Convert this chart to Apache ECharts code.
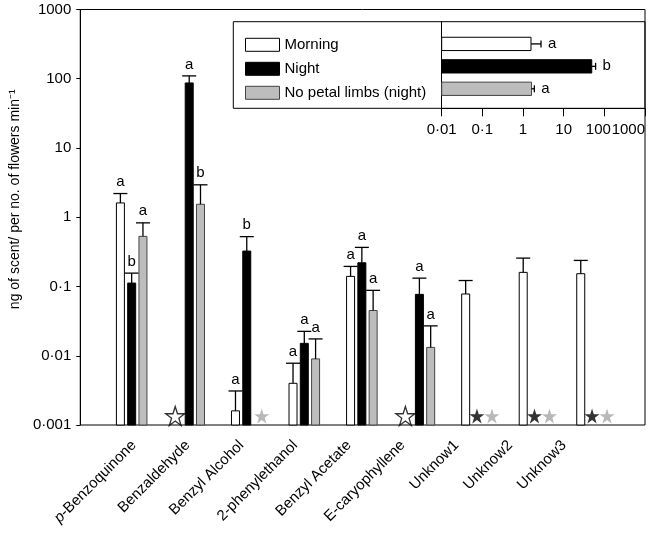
<!DOCTYPE html>
<html><head><meta charset="utf-8">
<script src="https://cdn.jsdelivr.net/npm/echarts@6/dist/echarts.min.js"></script>
<style>html,body{margin:0;padding:0;background:#fff}#c{width:649px;height:534px}</style>
</head><body><div id="c"></div>
<script>
// ---------- data ----------
const categories = ['p-Benzoquinone','Benzaldehyde','Benzyl Alcohol','2-phenylethanol','Benzyl Acetate','E-caryophyllene','Unknow1','Unknow2','Unknow3'];
const morning      = [1.61, null, 0.0016, 0.0040, 0.140, null, 0.078, 0.160, 0.153];
const morningErr   = [2.20, null, 0.0031, 0.0078, 0.195, null, 0.122, 0.257, 0.238];
const morningLetters = ['a','','a','a','a','','','',''];
const night        = [0.112, 87, 0.325, 0.0151, 0.22, 0.077, null, null, null];
const nightErr     = [0.156, 110, 0.525, 0.0225, 0.367, 0.132, null, null, null];
const nightLetters = ['b','a','b','a','a','a','','',''];
const noLimbs      = [0.53, 1.54, null, 0.0090, 0.045, 0.0132, null, null, null];
const noLimbsErr   = [0.83, 2.94, null, 0.0175, 0.088, 0.027, null, null, null];
const noLimbsLetters = ['a','b','','a','a','a','','',''];
// not detected (stars)
const morningND = [0,1,0,0,0,1,0,0,0];
const nightND   = [0,0,0,0,0,0,1,1,1];
const noLimbsND = [0,0,1,0,0,0,1,1,1];
const ndLevel = 0.00135;
// inset (total emission)
const insetGroups  = ['Morning','Night','No petal limbs (night)'];
const insetValues  = [1.57, 49, 1.62];
const insetErr     = [2.77, 61, 1.90];
const insetLetters = ['a','b','a'];

// ---------- styles ----------
const FONT = '"Liberation Sans", Arial, Helvetica, sans-serif';
const fills = ['#ffffff', '#000000', '#bdbdbd'];
const strokes = ['#000000', '#000000', '#444444'];
const fmt = v => String(+(+v).toPrecision(6)).replace('.', '\u00B7');
const STAR = 'path://M50 2 L61.8 38.2 L99.9 38.2 L69.1 60.6 L80.9 96.8 L50 74.4 L19.1 96.8 L30.9 60.6 L0.1 38.2 L38.2 38.2 Z';

function barSeries(name, vals, errs, letters, k) {
  const data = [];
  vals.forEach((v, i) => { if (v != null) data.push([i, v, errs[i]]); });
  return {
    type: 'custom', name, xAxisIndex: 1, yAxisIndex: 1, z: 5,
    itemStyle: { color: fills[k], borderColor: strokes[k] },
    data,
    renderItem(params, api) {
      const i = api.value(0), v = api.value(1), e = api.value(2);
      const band = api.coord([1, v])[0] - api.coord([0, v])[0];
      const cx = api.coord([i, v])[0] + (k - 1) * band * 0.196;
      const yTop = api.coord([i, v])[1];
      const yBase = api.coord([i, 0.001])[1];
      const yErr = api.coord([i, e])[1];
      const bw = 8, cw = 14;
      return { type: 'group', children: [
        { type: 'rect', shape: { x: cx - bw / 2, y: yTop, width: bw, height: yBase - yTop },
          style: { fill: fills[k], stroke: strokes[k], lineWidth: 1 } },
        { type: 'line', shape: { x1: cx, y1: yTop, x2: cx, y2: yErr }, style: { stroke: '#000', lineWidth: 1.3 } },
        { type: 'line', shape: { x1: cx - cw / 2, y1: yErr, x2: cx + cw / 2, y2: yErr }, style: { stroke: '#000', lineWidth: 1.3 } },
        { type: 'text', x: cx, y: yErr - 4,
          style: { text: letters[i], fill: '#000', font: '15px ' + FONT, align: 'center', verticalAlign: 'bottom' } }
      ]};
    }
  };
}

function starSeries(flags, k, size, offset) {
  const data = [];
  flags.forEach((f, i) => { if (f) data.push([i, ndLevel]); });
  const style = k === 0 ? { color: '#fff', borderColor: '#000', borderWidth: 1.3 }
              : k === 1 ? { color: '#000' } : { color: '#a6a6a6' };
  return { type: 'scatter', xAxisIndex: 1, yAxisIndex: 1, symbol: STAR, symbolSize: size,
           symbolOffset: [offset, 0], itemStyle: style, data, z: 6, silent: true };
}

const insetSeries = {
  type: 'custom', xAxisIndex: 3, yAxisIndex: 3, z: 5,
  data: insetValues.map((v, i) => [v, i, insetErr[i]]),
  renderItem(params, api) {
    const v = api.value(0), i = api.value(1), e = api.value(2);
    const p = api.coord([v, i]);
    const x0 = api.coord([0.01, i])[0];
    const xe = api.coord([e, i])[0];
    const h = 13.3;
    return { type: 'group', children: [
      { type: 'rect', shape: { x: x0, y: p[1] - h / 2, width: p[0] - x0, height: h },
        style: { fill: fills[i], stroke: strokes[i], lineWidth: 1 } },
      { type: 'line', shape: { x1: p[0], y1: p[1], x2: xe, y2: p[1] }, style: { stroke: '#000', lineWidth: 1.3 } },
      { type: 'line', shape: { x1: xe, y1: p[1] - 3.5, x2: xe, y2: p[1] + 3.5 }, style: { stroke: '#000', lineWidth: 1.3 } },
      { type: 'text', x: xe + 7, y: p[1],
        style: { text: insetLetters[i], fill: '#000', font: '15px ' + FONT, align: 'left', verticalAlign: 'middle' } }
    ]};
  }
};

const hidden = { axisLine: { show: false }, axisTick: { show: false }, axisLabel: { show: false }, splitLine: { show: false } };

const chart = echarts.init(document.getElementById('c'), null, { renderer: 'canvas' });
chart.setOption({
  animation: false,
  textStyle: { fontFamily: FONT, color: '#000' },
  graphic: [{ type: 'rect', shape: { x: 233.3, y: 21.7, width: 411.7, height: 86.6 },
              style: { fill: 'none', stroke: '#000', lineWidth: 1 }, z: 10 }],
  legend: {
    orient: 'vertical', left: 245, top: 37.3, padding: 0, itemWidth: 34, itemHeight: 13, itemGap: 9,
    selectedMode: false, icon: 'rect',
    textStyle: { fontSize: 15, fontFamily: FONT, color: '#000', lineHeight: 13 },
    data: insetGroups.map((n, k) => ({ name: n, itemStyle: { color: fills[k], borderColor: strokes[k], borderWidth: 1 } }))
  },
  grid: [
    { left: 74.7, right: 4, top: 9.5, bottom: 109, show: true, borderColor: '#000', borderWidth: 1 },
    { left: 102.9, right: 28.2, top: 9.5, bottom: 109 },
    { left: 107.1, right: 58.1, top: 9.5, bottom: 109 },
    { left: 441.7, right: 4, top: 21.7, bottom: 425.7 }
  ],
  xAxis: [
    Object.assign({ type: 'value', gridIndex: 0, min: 0, max: 1 }, hidden),
    Object.assign({ type: 'category', gridIndex: 1, data: categories }, hidden),
    { type: 'category', gridIndex: 2, data: categories,
      axisLine: { show: false }, axisTick: { show: false }, splitLine: { show: false },
      axisLabel: { rotate: 45, margin: 18, fontSize: 15, fontFamily: FONT, color: '#000', interval: 0,
        formatter: v => v === 'p-Benzoquinone' ? '{i|p}-Benzoquinone' : v,
        rich: { i: { fontStyle: 'italic', fontSize: 15, fontFamily: FONT, color: '#000' } } } },
    { type: 'log', gridIndex: 3, position: 'bottom', min: 0.01, max: 1000, logBase: 10, interval: 1,
      axisLine: { show: true, onZero: false, lineStyle: { color: '#000', width: 1 } },
      axisTick: { show: true, inside: false, length: 8, lineStyle: { color: '#000' } },
      axisLabel: { margin: 14, fontSize: 15, fontFamily: FONT, color: '#000', hideOverlap: false,
        showMinLabel: true, showMaxLabel: true, alignMaxLabel: 'right',
        formatter: v => { const s = fmt(v); return s === '100' ? '{n|100}' : s; },
        rich: { n: { fontSize: 15, fontFamily: FONT, color: '#000', padding: [0, 12, 0, 0] } } },
      splitLine: { show: false }, minorTick: { show: false } }
  ],
  yAxis: [
    { type: 'log', gridIndex: 0, min: 0.001, max: 1000, logBase: 10, interval: 1,
      name: 'ng of scent/ per no. of flowers min\u207B\u00B9', nameLocation: 'middle', nameGap: 48,
      nameTextStyle: { fontSize: 14, fontFamily: FONT, color: '#000', padding: [0, 0, 0, 36] },
      axisLine: { show: true, lineStyle: { color: '#000', width: 1 } },
      axisTick: { show: true, inside: false, length: 4, lineStyle: { color: '#000' } },
      axisLabel: { margin: 9, fontSize: 15, fontFamily: FONT, color: '#000', formatter: fmt },
      splitLine: { show: false } },
    Object.assign({ type: 'log', gridIndex: 1, min: 0.001, max: 1000, logBase: 10 }, hidden),
    Object.assign({ type: 'value', gridIndex: 2 }, hidden),
    Object.assign({ type: 'value', gridIndex: 3, inverse: true, min: -0.99, max: 2.87 }, hidden,
      { axisLine: { show: true, onZero: false, lineStyle: { color: '#000', width: 1 } } })
  ],
  series: [
    barSeries('Morning', morning, morningErr, morningLetters, 0),
    barSeries('Night', night, nightErr, nightLetters, 1),
    barSeries('No petal limbs (night)', noLimbs, noLimbsErr, noLimbsLetters, 2),
    starSeries(morningND, 0, 19, -14),
    starSeries(nightND, 1, 15, 0),
    starSeries(noLimbsND, 2, 15, 15),
    insetSeries
  ]
});
</script>
</body></html>
